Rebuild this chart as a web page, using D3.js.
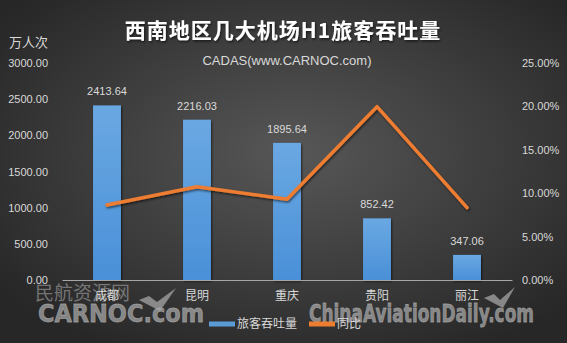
<!DOCTYPE html>
<html>
<head>
<meta charset="utf-8">
<script src="https://cdn.jsdelivr.net/npm/d3@7"></script>
<style>
  html, body { margin: 0; padding: 0; background: #2b2b2b; }
  svg { display: block; }
  .axis text { fill: #d9d9d9; font-family: 'Liberation Sans', Arial, sans-serif; font-size: 11px; }
  .axis line { display: none; }
</style>
</head>
<body>
<svg id="chart" width="567" height="343"></svg>
<script>
let cities = ['成都', '昆明', '重庆', '贵阳', '丽江'];
let passengers = [2413.64, 2216.03, 1895.64, 852.42, 347.06];
let yoy = [0.0864, 0.1075, 0.093, 0.1997, 0.0833];
let leftTicks = [0, 500, 1000, 1500, 2000, 2500, 3000];
let rightTicks = [0, 0.05, 0.10, 0.15, 0.20, 0.25];

let width = 567;
let height = 343;
let plotLeft = 62;
let plotRight = 512;
let plotTop = 63;
let plotBottom = 280;
let cjk = "'Noto Sans CJK SC', sans-serif";
let latin = "'Liberation Sans', Arial, sans-serif";
let barColor = '#5b9bd5';
let lineColor = '#ed7d31';
let markColor = 'rgba(170,170,170,0.72)';

const svg = d3.select('#chart');
const defs = svg.append('defs');

let bg = defs.append('radialGradient')
  .attr('id', 'bg')
  .attr('cx', '52%').attr('cy', '45%').attr('r', '65%');
bg.append('stop').attr('offset', '0%').attr('stop-color', '#575757');
bg.append('stop').attr('offset', '100%').attr('stop-color', '#272727');

let barGrad = defs.append('linearGradient')
  .attr('id', 'barGrad')
  .attr('x1', 0).attr('y1', 0).attr('x2', 0).attr('y2', 1);
barGrad.append('stop').attr('offset', '0%').attr('stop-color', '#6aa8e2');
barGrad.append('stop').attr('offset', '100%').attr('stop-color', '#4a90d8');

let shadow = defs.append('filter').attr('id', 'shadow')
  .attr('x', '-20%').attr('y', '-20%').attr('width', '140%').attr('height', '140%');
shadow.append('feDropShadow')
  .attr('dx', 1).attr('dy', 1.5).attr('stdDeviation', 1.2)
  .attr('flood-color', '#000').attr('flood-opacity', 0.6);

svg.append('rect')
  .attr('width', width)
  .attr('height', height)
  .attr('fill', 'url(#bg)');

// title
svg.append('text')
  .attr('x', 283)
  .attr('y', 38)
  .attr('text-anchor', 'middle')
  .attr('fill', '#ffffff')
  .attr('filter', 'url(#shadow)')
  .style('font-family', cjk)
  .style('font-size', '21px')
  .style('font-weight', 'bold')
  .style('letter-spacing', '1px')
  .text('西南地区几大机场H1旅客吞吐量');

svg.append('text')
  .attr('x', 287)
  .attr('y', 65)
  .attr('text-anchor', 'middle')
  .attr('fill', '#d9d9d9')
  .style('font-family', latin)
  .style('font-size', '13px')
  .text('CADAS(www.CARNOC.com)');

svg.append('text')
  .attr('x', 9)
  .attr('y', 47)
  .attr('fill', '#d9d9d9')
  .style('font-family', cjk)
  .style('font-size', '13px')
  .text('万人次');

let x = d3.scaleBand()
  .domain(cities)
  .range([plotLeft, plotRight])
  .paddingInner(0.69)
  .paddingOuter(0.345);

let yLeft = d3.scaleLinear()
  .domain([0, 3000])
  .range([plotBottom, plotTop]);

let yRight = d3.scaleLinear()
  .domain([0, 0.25])
  .range([plotBottom, plotTop]);

// left axis
let leftAxis = svg.append('g')
  .attr('class', 'axis')
  .attr('transform', 'translate(' + 48 + ',0)')
  .call(d3.axisLeft(yLeft).tickValues(leftTicks).tickFormat(d3.format('.2f')).tickSize(0).tickPadding(0));
leftAxis.select('.domain').remove();

// right axis
let rightAxis = svg.append('g')
  .attr('class', 'axis')
  .attr('transform', 'translate(' + 522 + ',0)')
  .call(d3.axisRight(yRight).tickValues(rightTicks).tickFormat(d3.format('.2%')).tickSize(0).tickPadding(0));
rightAxis.select('.domain').remove();

// bars
svg.selectAll('.bar')
  .data(passengers)
  .enter()
  .append('rect')
  .attr('class', 'bar')
  .attr('x', function (d, i) {
    return x(cities[i]);
  })
  .attr('y', function (d) {
    return yLeft(d);
  })
  .attr('width', x.bandwidth())
  .attr('height', function (d) {
    return plotBottom - yLeft(d);
  })
  .attr('fill', 'url(#barGrad)')
  .attr('filter', 'url(#shadow)');

svg.selectAll('.barLabel')
  .data(passengers)
  .enter()
  .append('text')
  .attr('class', 'barLabel')
  .attr('x', function (d, i) {
    return x(cities[i]) + x.bandwidth() / 2;
  })
  .attr('y', function (d) {
    return yLeft(d) - 10;
  })
  .attr('text-anchor', 'middle')
  .attr('fill', '#d9d9d9')
  .style('font-family', latin)
  .style('font-size', '11px')
  .text(function (d) {
    return d3.format('.2f')(d);
  });

// watermarks
let wm = svg.append('g').attr('class', 'watermark');
wm.append('text')
  .attr('x', 35)
  .attr('y', 300)
  .attr('fill', 'rgba(180,180,180,0.55)')
  .style('font-family', cjk)
  .style('font-size', '19px')
  .text('民航资源网');
wm.append('text')
  .attr('x', 38)
  .attr('y', 322)
  .attr('textLength', 166)
  .attr('lengthAdjust', 'spacingAndGlyphs')
  .attr('fill', markColor)
  .attr('stroke', markColor)
  .attr('stroke-width', 0.8)
  .style('font-family', "'DejaVu Sans', sans-serif")
  .style('font-size', '24px')
  .style('font-weight', 'bold')
  .text('CARNOC.com');
wm.append('text')
  .attr('x', 309)
  .attr('y', 322)
  .attr('textLength', 225)
  .attr('lengthAdjust', 'spacingAndGlyphs')
  .attr('fill', markColor)
  .attr('stroke', markColor)
  .attr('stroke-width', 0.8)
  .style('font-family', "'DejaVu Sans', sans-serif")
  .style('font-size', '24px')
  .style('font-weight', 'bold')
  .text('ChinaAviationDaily.com');
wm.append('path')
  .attr('d', 'M139,300 L149,296 L157,302 L176,288 L160,311 Z')
  .attr('fill', markColor);
wm.append('path')
  .attr('d', 'M484,298 L494,294 L500,300 L515,287 L503,308 Z')
  .attr('fill', markColor);

// bottom axis
let bottomAxis = svg.append('g')
  .attr('class', 'axis')
  .attr('transform', 'translate(0,' + plotBottom + ')')
  .call(d3.axisBottom(x).tickSize(0).tickSizeOuter(0).tickPadding(11));
bottomAxis.select('.domain')
  .attr('stroke', '#a6a6a6')
  .attr('stroke-width', 1.2);
bottomAxis.selectAll('text')
  .style('font-family', cjk)
  .style('font-size', '12px');

// line
let line = d3.line()
  .x(function (d, i) {
    return x(cities[i]) + x.bandwidth() / 2;
  })
  .y(function (d) {
    return yRight(d);
  });

svg.append('path')
  .attr('d', line(yoy))
  .attr('fill', 'none')
  .attr('stroke', lineColor)
  .attr('stroke-width', 3.5)
  .attr('stroke-linejoin', 'round')
  .attr('stroke-linecap', 'round')
  .attr('filter', 'url(#shadow)');

// legend
let legend = svg.append('g').attr('class', 'legend');
let legendItems = [
  {name: '旅客吞吐量', color: barColor, x: 209},
  {name: '同比', color: lineColor, x: 309}
];
legendItems.forEach(function (item) {
  legend.append('line')
    .attr('x1', item.x)
    .attr('x2', item.x + 26)
    .attr('y1', 324)
    .attr('y2', 324)
    .attr('stroke', item.color)
    .attr('stroke-width', 5);
  legend.append('text')
    .attr('x', item.x + 28)
    .attr('y', 328)
    .attr('fill', '#d9d9d9')
    .style('font-family', cjk)
    .style('font-size', '12px')
    .text(item.name);
});
</script>
</body>
</html>
